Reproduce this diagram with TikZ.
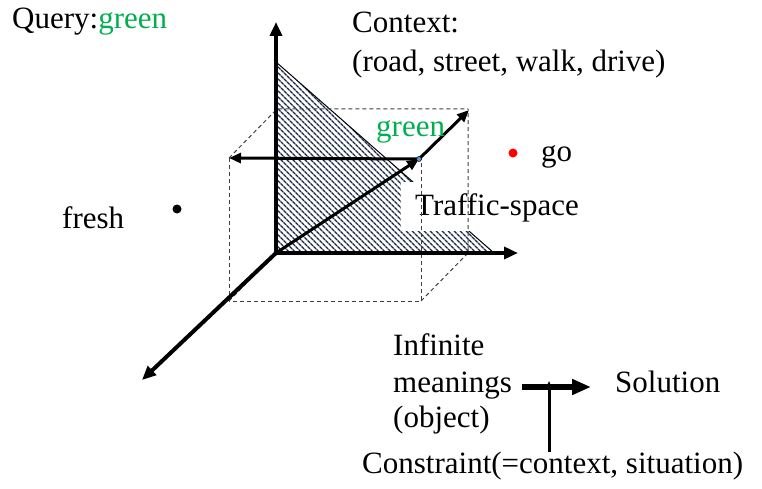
\documentclass[tikz,border=0pt]{standalone}
\usepackage{fontspec}
\setmainfont{Liberation Serif}
\usetikzlibrary{arrows.meta,patterns.meta}
\definecolor{qgreen}{RGB}{0,176,80}
\definecolor{hatchc}{RGB}{25,38,70}
\definecolor{dotblue}{RGB}{90,150,210}
\begin{document}
\begin{tikzpicture}[x=1pt,y=-1pt,
  lbl/.style={anchor=base west,inner sep=0pt,font=\fontsize{31}{37}\selectfont},
  axis/.style={line width=4pt,-{Triangle[length=14pt,width=12pt]}},
  vec/.style={line width=3pt,-{Triangle[length=12pt,width=10pt]}},
  guide/.style={line width=1pt,dash pattern=on 4pt off 3pt,black!75},
  bigarrow/.style={line width=5.5pt,-{Triangle[length=19pt,width=15pt]}},
  dotmark/.style={circle,inner sep=0pt,minimum size=9pt}]
\useasboundingbox (0,0) rectangle (762,489);

% axes coordinates
\coordinate (O) at (276,253);
\coordinate (ytip) at (276,22);
\coordinate (xtip) at (518,253);
\coordinate (ztip) at (142,380);
\coordinate (P) at (419,159);
\coordinate (Ptip) at (469,110);
\coordinate (Hleft) at (229,158);
% box corners
\coordinate (F1) at (229,158);
\coordinate (F2) at (421,158);
\coordinate (F3) at (421,301);
\coordinate (F4) at (229,301);
\coordinate (B1) at (277,109);
\coordinate (B2) at (468,109);
\coordinate (B3) at (468,253);
% triangle
\coordinate (T1) at (276,62);
\coordinate (T2) at (276,253);
\coordinate (T3) at (494,253);

\fill[pattern={Lines[angle=-45,distance=4pt,line width=1.5pt]},pattern color=hatchc]
  (T1) -- (T2) -- (T3) -- cycle;
\draw[line width=1pt] (T1) -- (T3);

\node[lbl,fill=white,inner xsep=14pt,inner ysep=3pt,text height=30pt,text depth=13pt]
  (traffic) at (401,215) {Traffic-space};

% dashed box
\draw[guide] (F1) -- (B1) -- (B2);
\draw[guide] (F1) -- (F4) -- (F3) -- (F2);
\draw[guide] (F3) -- (B3) -- (B2);
\draw[guide] (F4) -- (O);

% axes
\draw[axis] (O) -- (ytip);
\draw[axis] (O) -- (xtip);
\draw[axis] (O) -- (ztip);

% vectors
\draw[vec] (O) -- (P);
\draw[vec] (P) -- (Ptip);
\draw[vec] (P) -- (Hleft);
\node[circle,inner sep=0pt,minimum size=5pt,fill=dotblue,draw=black,line width=0.5pt] (pdot) at (P) {};

% texts
\node[lbl] (query) at (12,29) {Query:\textcolor{qgreen}{green}};
\node[lbl] (ctx1) at (352,33) {Context:};
\node[lbl] (ctx2) at (352,72) {(road, street, walk, drive)};
\node[lbl,text=qgreen] (green) at (376,137) {green};
\node[lbl] (go) at (541,161) {go};
\node[dotmark,fill=red] (godot) at (513,153) {};
\node[lbl] (fresh) at (62,228) {fresh};
\node[dotmark,fill=black] (freshdot) at (177,209) {};

% bottom
\node[lbl] (inf1) at (393,355) {Infinite};
\node[lbl] (inf2) at (393,392) {meanings};
\node[lbl] (inf3) at (393,427) {(object)};
\node[lbl] (sol) at (615,392) {Solution};
\node[lbl] (cons) at (362,473) {Constraint(=context, situation)};
\coordinate (c1) at (549,452);
\coordinate (c2) at (549,381);
\coordinate (a1) at (522,387);
\coordinate (a2) at (591,387);
\draw[line width=3pt,-{Triangle[length=7pt,width=6pt]}] (c1) -- (c2);
\draw[bigarrow] (a1) -- (a2);
\end{tikzpicture}
\end{document}
